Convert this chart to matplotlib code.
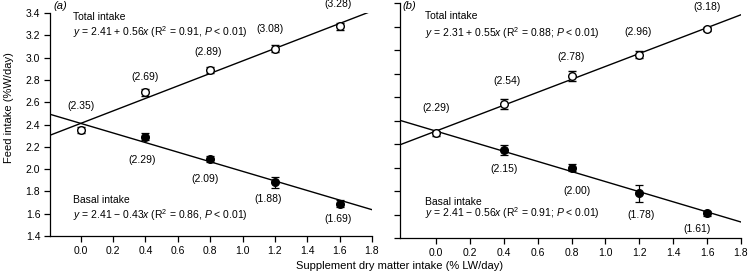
import numpy as np
import matplotlib
matplotlib.use("Agg")
import matplotlib.pyplot as plt

plt.rcParams['font.family'] = ['Liberation Sans', 'DejaVu Sans']

# Data
dose = [0.0, 0.4, 0.8, 1.2, 1.6]

total_a = [2.35, 2.69, 2.89, 3.08, 3.28]
total_a_err = [0.03, 0.03, 0.03, 0.03, 0.03]
basal_a = [2.29, 2.09, 1.88, 1.69]
basal_a_err = [0.03, 0.03, 0.05, 0.03]

total_b = [2.29, 2.54, 2.78, 2.96, 3.18]
total_b_err = [0.02, 0.04, 0.04, 0.03, 0.02]
basal_b = [2.15, 2.00, 1.78, 1.61]
basal_b_err = [0.04, 0.03, 0.07, 0.02]

# regression lines as drawn (intercept, slope)
fit_total_a = (2.41, 0.56)
fit_basal_a = (2.41, -0.43)
fit_total_b = (2.31, 0.55)
fit_basal_b = (2.31, -0.43)

eq_total_a = r'$y$ = 2.41 + 0.56$x$ (R$^2$ = 0.91, $P$ < 0.01)'
eq_basal_a = r'$y$ = 2.41 $-$ 0.43$x$ (R$^2$ = 0.86, $P$ < 0.01)'
eq_total_b = r'$y$ = 2.31 + 0.55$x$ (R$^2$ = 0.88; $P$ < 0.01)'
eq_basal_b = r'$y$ = 2.41 $-$ 0.56$x$ (R$^2$ = 0.91; $P$ < 0.01)'

# label offsets in data units (dx, dy) for the value labels
lab_total_a = [(0.0, 0.22), (0.0, 0.14), (-0.01, 0.16), (-0.03, 0.18), (-0.01, 0.20)]
lab_basal_a = [(-0.02, -0.21), (-0.03, -0.18), (-0.04, -0.15), (-0.01, -0.14)]
lab_total_b = [(0.0, 0.22), (0.02, 0.20), (0.0, 0.16), (-0.01, 0.19), (0.0, 0.19)]
lab_basal_b = [(0.0, -0.16), (0.03, -0.20), (0.01, -0.18), (-0.06, -0.13)]

plt.rcParams['mathtext.fontset'] = 'custom'
plt.rcParams['mathtext.rm'] = 'Liberation Sans'
plt.rcParams['mathtext.it'] = 'Liberation Sans:italic'

W, H = 750, 278
fig = plt.figure(figsize=(W / 100, H / 100), dpi=100)


def make_axes(x0, x1, ytop, ybot):
    return fig.add_axes([x0 / W, (H - ybot) / H, (x1 - x0) / W, (ybot - ytop) / H])


def draw_panel(ax, xmin, total, terr, basal, berr, ft, fb, eqt, eqb,
               lt, lb, txt_t, txt_b, show_ylabels):
    ax.set_xlim(xmin, 1.8)
    ax.set_ylim(1.4, 3.4)
    xs = np.array([xmin, 1.8])
    ax.plot(xs, ft[0] + ft[1] * xs, color='black', lw=1.0, zorder=2, clip_on=True)
    ax.plot(xs, fb[0] + fb[1] * xs, color='black', lw=1.0, zorder=2, clip_on=True)

    ax.errorbar(dose[1:], basal, yerr=berr, fmt='o', ms=5.5, mfc='black', mec='black',
                ecolor='black', elinewidth=0.9, capsize=3, capthick=0.9, zorder=3)
    ax.errorbar(dose, total, yerr=terr, fmt='o', ms=5.5, mfc='white', mec='black',
                mew=1.0, ecolor='black', elinewidth=0.9, capsize=3, capthick=0.9, zorder=4)

    for x, v, (dx, dy) in zip(dose, total, lt):
        ax.text(x + dx, v + dy, f'({v:.2f})', ha='center', va='center', fontsize=7.5,
                clip_on=False)
    for x, v, (dx, dy) in zip(dose[1:], basal, lb):
        ax.text(x + dx, v + dy, f'({v:.2f})', ha='center', va='center', fontsize=7.5)

    ax.text(txt_t[0], txt_t[1], 'Total intake', fontsize=7.5, va='center')
    ax.text(txt_t[0], txt_t[2], eqt, fontsize=7.5, va='center')
    ax.text(txt_b[0], txt_b[1], 'Basal intake', fontsize=7.5, va='center')
    ax.text(txt_b[0], txt_b[2], eqb, fontsize=7.5, va='center')

    for s in ['top', 'right']:
        ax.spines[s].set_visible(False)
    for s in ['left', 'bottom']:
        ax.spines[s].set_linewidth(0.9)
    ax.set_xticks([0.0, 0.2, 0.4, 0.6, 0.8, 1.0, 1.2, 1.4, 1.6, 1.8])
    ax.set_yticks(np.arange(1.4, 3.41, 0.2))
    ax.tick_params(direction='out', length=4, width=0.9, labelsize=7.5, pad=3)
    ax.xaxis.set_major_formatter(matplotlib.ticker.FormatStrFormatter('%.1f'))
    ax.yaxis.set_major_formatter(matplotlib.ticker.FormatStrFormatter('%.1f'))
    if not show_ylabels:
        ax.set_yticklabels([])


ax_a = make_axes(50, 372, 13, 236)
draw_panel(ax_a, -0.19, total_a, total_a_err, basal_a, basal_a_err,
           fit_total_a, fit_basal_a, eq_total_a, eq_basal_a,
           lab_total_a, lab_basal_a, (-0.05, 3.36, 3.23), (-0.05, 1.72, 1.59), True)

ax_b = make_axes(400, 741, 3, 238)
draw_panel(ax_b, -0.212, total_b, total_b_err, basal_b, basal_b_err,
           fit_total_b, fit_basal_b, eq_total_b, eq_basal_b,
           lab_total_b, lab_basal_b, (-0.065, 3.29, 3.14), (-0.065, 1.71, 1.61), False)

# panel letters
fig.text(53 / W, 1 - 1 / H, '(a)', fontsize=8, va='top', ha='left', style='italic')
fig.text(402 / W, 1 - 1 / H, '(b)', fontsize=8, va='top', ha='left', style='italic')

fig.text(9 / W, 1 - 108 / H, 'Feed intake (%W/day)', rotation=90, ha='center',
         va='center', fontsize=8)
fig.text(400 / W, 1 - 266 / H, 'Supplement dry matter intake (% LW/day)', ha='center',
         va='center', fontsize=8)

fig.savefig('out.png', dpi=100)
